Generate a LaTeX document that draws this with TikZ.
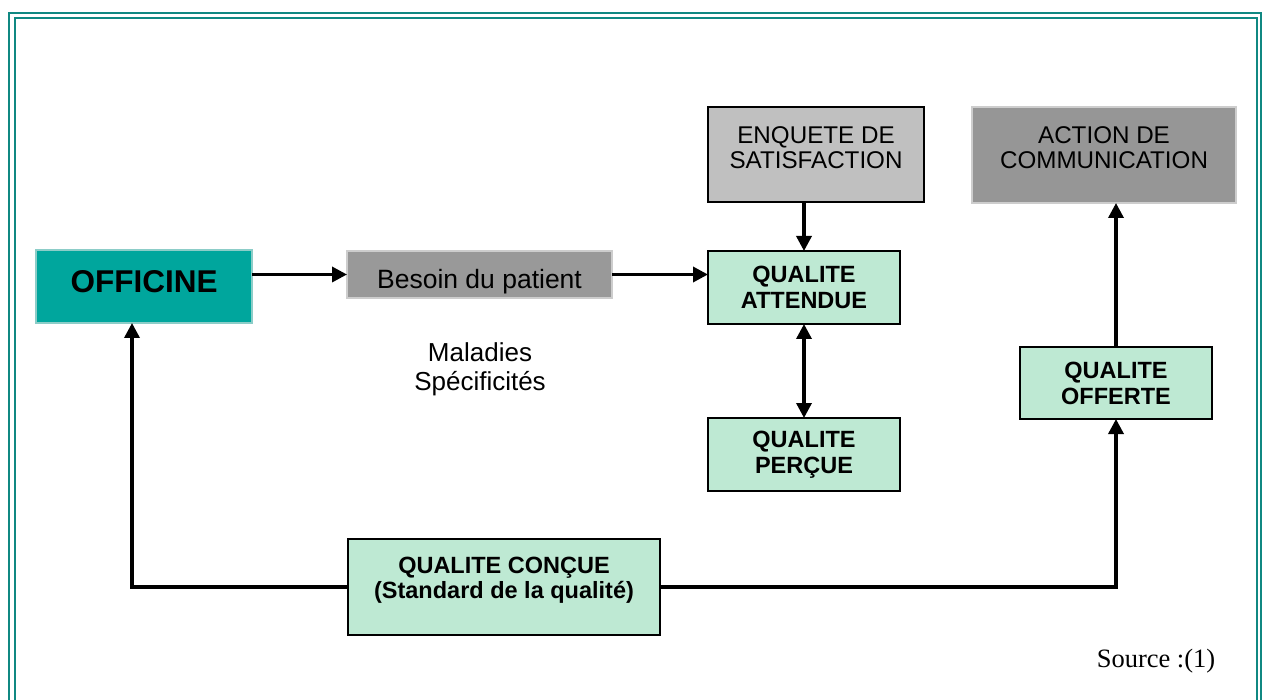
\documentclass[tikz,border=0pt]{standalone}
\usepackage{fontspec}
\setmainfont{Liberation Sans}
\newfontfamily\srcfont{Liberation Serif}
\usetikzlibrary{arrows.meta}

\definecolor{frameteal}{RGB}{16,136,130}
\definecolor{offteal}{RGB}{0,166,157}
\definecolor{offedge}{RGB}{140,205,200}
\definecolor{mint}{RGB}{190,233,211}
\definecolor{lightgrey}{RGB}{192,192,192}
\definecolor{midgrey}{RGB}{153,153,153}
\definecolor{darkgrey}{RGB}{150,150,150}
\definecolor{greyedge}{RGB}{205,205,205}

\tikzset{
  box/.style={rectangle, inner sep=0pt, outer sep=0pt, align=center},
  qualfont/.style={font=\fontsize{23.5}{26}\selectfont\bfseries},
  plainfont/.style={font=\fontsize{24.2}{25.5}\selectfont},
  qualbox/.style={box, fill=mint, draw=black, line width=1.9pt, qualfont},
  greybox/.style={box, draw=black, line width=1.9pt},
  flow/.style={line width=3.4pt, -{Triangle[length=15pt,width=15pt]}},
  twoway/.style={line width=3.4pt, {Triangle[length=15pt,width=15pt]}-{Triangle[length=15pt,width=15pt]}},
  frameline/.style={draw=frameteal},
}

\begin{document}
\begin{tikzpicture}[x=1pt, y=-1pt]
  \useasboundingbox (0,0) rectangle (1263,700);
  \clip (0,0) rectangle (1263,700);

  % double frame around the figure
  \draw[frameline, line width=2.6pt] (9,13) rectangle (1261,720);
  \draw[frameline, line width=2.4pt] (15,18) rectangle (1257,720);

  % boxes
  \node[box, fill=offteal, draw=offedge, line width=1.2pt,
        minimum width=216pt, minimum height=73pt,
        label={[name=offtext, anchor=base, yshift=4.5pt,
                font=\fontsize{31.5}{34}\selectfont\bfseries]center:OFFICINE}]
        (off) at (144,286.5) {};
  \node[box, fill=midgrey, draw=greyedge, line width=1.5pt,
        minimum width=265pt, minimum height=47pt,
        label={[name=bestext, anchor=base, yshift=-7.5pt,
                font=\fontsize{26.5}{29}\selectfont]center:Besoin du patient}]
        (bes) at (479.5,274.5) {};
  \node[greybox, fill=lightgrey, minimum width=216pt, minimum height=95pt,
        label={[name=enqtext, anchor=north, yshift=-16pt, align=center,
                plainfont]north:ENQUETE DE\\SATISFACTION}]
        (enq) at (816,154.5) {};
  \node[greybox, fill=darkgrey, draw=greyedge, minimum width=264pt, minimum height=96pt,
        label={[name=acttext, anchor=north, yshift=-16pt, align=center,
                plainfont]north:ACTION DE\\COMMUNICATION}]
        (act) at (1104,155) {};
  \node[qualbox, minimum width=192pt, minimum height=73pt] (qa) at (804,287.5) {QUALITE\\ATTENDUE};
  \node[qualbox, minimum width=192pt, minimum height=73pt] (qp) at (804,454.5) {QUALITE\\PERÇUE};
  \node[qualbox, minimum width=192pt, minimum height=72pt] (qo) at (1116,383) {QUALITE\\OFFERTE};
  \node[qualbox, minimum width=312pt, minimum height=96pt,
        label={[name=qctext, anchor=north, yshift=-15pt, align=center,
                font=\fontsize{23.5}{24.5}\selectfont\bfseries]north:QUALITE CONÇUE\\(Standard de la qualité)}]
        (qc) at (504,587) {};

  % free texts
  \node[align=center, font=\fontsize{26}{29}\selectfont] (mal) at (480,369) {Maladies\\Spécificités};
  \node[font=\srcfont\fontsize{26.5}{29}\selectfont] (src) at (1156,661) {Source :(1)};

  % connectors
  \draw[flow] (off.east |- bes.west) -- (bes.west);
  \draw[flow] (bes.east) -- (qa.west |- bes.east);
  \draw[flow] (qa.north |- enq.south) -- (qa.north);
  \draw[twoway] (qa.south) -- (qp.north);
  \draw[flow] (qo.north) -- (qo.north |- act.south);
  \draw[flow] (qc.west) -| ([xshift=-12pt]off.south);
  \draw[flow] (qc.east) -| (qo.south);
\end{tikzpicture}
\end{document}
